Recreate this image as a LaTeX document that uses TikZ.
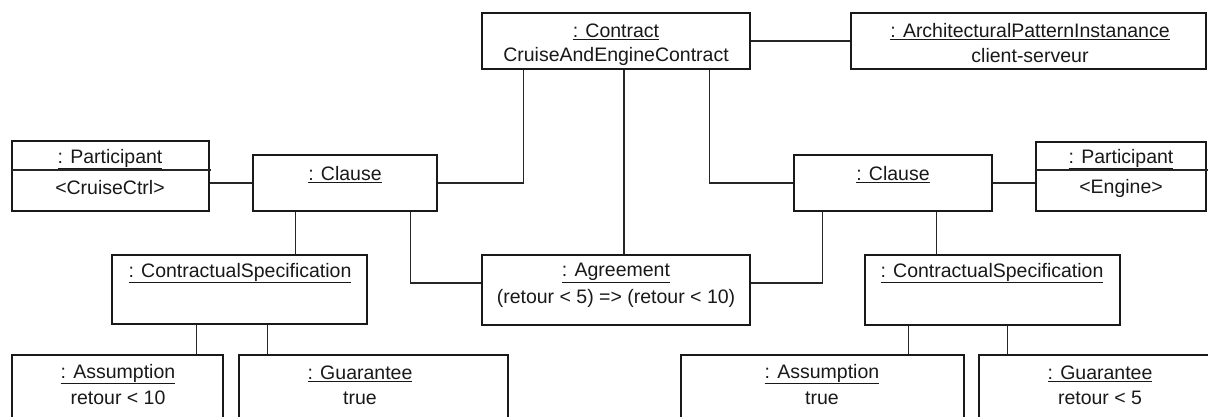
\documentclass[tikz,border=0pt]{standalone}
\usepackage{fontspec}
\setmainfont{Liberation Sans}
\usetikzlibrary{fit,calc}
\tikzset{
  umlbox/.style={draw=black!90, line width=1.2pt, rectangle, inner sep=0pt, fill=none},
  umltext/.style={inner sep=0pt, font=\fontsize{19.5}{23}\selectfont, text=black!90},
  conn/.style={draw=black!85, line width=1.2pt}
}
\begin{document}
\begin{tikzpicture}[x=1pt,y=-1pt]
\clip (0,0) rectangle (1208,417);
\fill[white] (0,0) rectangle (1208,417);
% boxes
\node[umlbox, fit={(482,13) (750,69)}] (contract) {};
\node[umlbox, fit={(851,13) (1206,69)}] (arch) {};
\node[umlbox, fit={(12,141) (209,211)}] (partL) {};
\node[umlbox, fit={(253,155) (437,211)}] (clauseL) {};
\node[umlbox, fit={(794,155) (992,211)}] (clauseR) {};
\node[umlbox, fit={(1036,142) (1206,211)}] (partR) {};
\node[umlbox, fit={(112,255) (367,324)}] (csL) {};
\node[umlbox, fit={(482,255) (750,325)}] (agreement) {};
\node[umlbox, fit={(865,255) (1120,325)}] (csR) {};
\node[umlbox, fit={(12,355) (223,440)}] (assL) {};
\node[umlbox, fit={(239,355) (508,440)}] (guaL) {};
\node[umlbox, fit={(681,355) (964,440)}] (assR) {};
\node[umlbox, fit={(979,355) (1240,440)}] (guaR) {};
% participant separators
\draw[conn] (12,170) -- (211,170);
\draw[conn] (1036,170) -- (1208,170);
% texts
\node[umltext] (t1) at (616,32) {\underline{: Contract}};
\node[umltext] (t2) at (616,56) {CruiseAndEngineContract};
\node[umltext] (t3) at (1030,32) {\underline{: ArchitecturalPatternInstanance}};
\node[umltext] (t4) at (1030,56) {client-serveur};
\node[umltext] (t5) at (110,159) {\underline{: Participant}};
\node[umltext] (t6) at (110,188) {<CruiseCtrl>};
\node[umltext] (t7) at (345,175) {\underline{: Clause}};
\node[umltext] (t8) at (893,175) {\underline{: Clause}};
\node[umltext] (t9) at (1121,159) {\underline{: Participant}};
\node[umltext] (t10) at (1121,188) {<Engine>};
\node[umltext] (t11) at (240,273) {\underline{: ContractualSpecification}};
\node[umltext] (t12) at (616,273) {\underline{: Agreement}};
\node[umltext] (t13) at (616,298) {(retour < 5) => (retour < 10)};
\node[umltext] (t14) at (992,273) {\underline{: ContractualSpecification}};
\node[umltext] (t15) at (118,374) {\underline{: Assumption}};
\node[umltext] (t16) at (118,398) {retour < 10};
\node[umltext] (t17) at (360,374) {\underline{: Guarantee}};
\node[umltext] (t18) at (360,398) {true};
\node[umltext] (t19) at (822,374) {\underline{: Assumption}};
\node[umltext] (t20) at (822,398) {true};
\node[umltext] (t21) at (1100,374) {\underline{: Guarantee}};
\node[umltext] (t22) at (1100,398) {retour < 5};
% connectors
\draw[conn] (contract.east) -- (arch.west |- contract.east);
\draw[conn] (partL.east |- clauseL.west) -- (clauseL.west);
\draw[conn] (clauseL.east) -| ([xshift=42pt]contract.south west);
\draw[conn] ([xshift=8pt]contract.south) -- ([xshift=8pt]agreement.north);
\draw[conn] ([xshift=-41pt]contract.south east) |- (clauseR.west);
\draw[conn] (clauseR.east) -- (partR.west |- clauseR.east);
\draw[conn] ([xshift=43pt]clauseL.south west) coordinate (a1) -- (a1 |- csL.north);
\draw[conn] ([xshift=-27pt]clauseL.south east) |- ([yshift=7pt]agreement.west);
\draw[conn] ([xshift=29pt]clauseR.south west) |- ([yshift=7pt]agreement.east);
\draw[conn] ([xshift=143pt]clauseR.south west) coordinate (a2) -- (a2 |- csR.north);
\draw[conn] ([xshift=85pt]csL.south west) coordinate (a3) -- (a3 |- assL.north);
\draw[conn] ([xshift=156pt]csL.south west) coordinate (a4) -- (a4 |- guaL.north);
\draw[conn] ([xshift=44pt]csR.south west) coordinate (a5) -- (a5 |- assR.north);
\draw[conn] ([xshift=143pt]csR.south west) coordinate (a6) -- (a6 |- guaR.north);
\end{tikzpicture}
\end{document}
